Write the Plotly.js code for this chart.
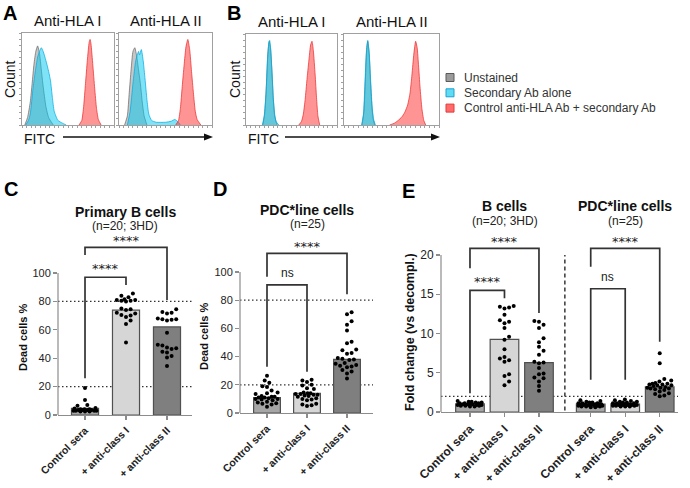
<!DOCTYPE html>
<html><head><meta charset="utf-8">
<script src="https://cdn.plot.ly/plotly-3.0.1.min.js"></script>
<style>html,body{margin:0;padding:0;background:#fff}#chart{width:690px;height:488px}</style>
</head><body><div id="chart"></div>
<script>
// ---------------- DATA ----------------
// Histograms (x: % of FITC axis width, y: normalised count)
const a1Gray = [[3,0],[6,0.08],[9,0.25],[11,0.45],[13,0.66],[15,0.8],[17,0.86],[19,0.78],[21,0.6],[23,0.42],[26,0.2],[29,0.08],[34,0]];
const a1Cyan = [[4,0],[7,0.05],[9,0.12],[12,0.4],[14,0.55],[17,0.74],[19,0.8],[21,0.84],[23,0.8],[26,0.7],[29,0.58],[31,0.48],[33,0.3],[35,0.15],[39,0.05],[44,0.02],[48,0]];
const a1Red  = [[62,0],[65,0.05],[67,0.2],[69,0.45],[71,0.7],[73,0.9],[74,0.93],[75,0.88],[77,0.65],[79,0.4],[81,0.18],[83,0.06],[86,0]];
const a2Gray = [[6,0],[9,0.1],[11,0.35],[13,0.6],[15,0.8],[17,0.84],[19,0.75],[21,0.6],[23,0.45],[25,0.25],[27,0.1],[30,0]];
const a2Cyan = [[9,0],[12,0.15],[15,0.45],[18,0.7],[21,0.8],[22,0.76],[24,0.82],[26,0.7],[28,0.5],[30,0.28],[32,0.12],[35,0.05],[40,0.03],[50,0.03],[56,0.04],[60,0.06],[63,0.04],[66,0]];
const a2Red  = [[61,0],[64,0.05],[66,0.18],[68,0.42],[70,0.65],[72,0.85],[74,0.93],[76,0.82],[78,0.58],[80,0.35],[82,0.15],[84,0.06],[88,0]];
const b1Gray = [[18.5,0],[20.5,0.12],[22.5,0.45],[24,0.78],[25.5,0.92],[27,0.84],[28.5,0.58],[30,0.28],[31.5,0.1],[34,0]];
const b1Cyan = [[18,0],[20,0.1],[22,0.35],[23.5,0.7],[25,0.9],[26,0.93],[27,0.85],[28.5,0.6],[30,0.3],[31.5,0.12],[33,0.04],[36,0]];
const b1Red  = [[58,0],[61,0.04],[63,0.12],[65,0.28],[67,0.5],[69,0.7],[71,0.88],[72.5,0.92],[74,0.82],[76,0.55],[77.5,0.3],[79,0.1],[81,0]];
const b2Gray = [[19,0],[21,0.15],[22.5,0.5],[24,0.85],[25,0.92],[26.5,0.78],[28,0.45],[29.5,0.18],[31,0.05],[32.5,0]];
const b2Cyan = [[18.5,0],[20.5,0.12],[22,0.45],[23.5,0.8],[25,0.93],[26.5,0.8],[28,0.5],[29.5,0.22],[31,0.07],[33,0]];
const b2Red  = [[48,0],[53,0.02],[57,0.05],[61,0.09],[64,0.14],[67,0.22],[69.5,0.35],[71.5,0.55],[73.5,0.78],[75.4,0.92],[77,0.85],[78.5,0.65],[80,0.42],[82,0.18],[84,0.05],[86,0]];
const legendNames = ['Unstained','Secondary Ab alone','Control anti-HLA Ab + secondary Ab'];
const histTitles = ['Anti-HLA I','Anti-HLA II'];

// Bar panels
const categories = ['Control sera','+ anti-class I','+ anti-class II'];
const barC = [4.7, 73.8, 62];
const cControl = [19,10.5,7,6.5,5,4.5,4,4,4,3.5,3.5,3.5,3.5,3,3,3,3,2.5,2.5,2.5];
const cClassI  = [85.5,84,83,81.5,81,81,80.5,80.5,80,75,74.5,74,72,71.5,70.5,70,69,66.5,64,51];
const cClassII = [74.5,72.5,72,71.5,68,67.5,67.5,67,66.5,58,49.5,49,47.5,47,46.5,44.5,44,41.5,40.5,34.5];
const barD = [10.9, 14, 38];
const dControl = [26.5,23,21.5,19,18.5,16,14.5,14,13.5,12,11.5,11.5,11,11,10.5,10,10,9.5,9,8,7.5,7,6.5,6,4.5];
const dClassI  = [23.5,23,22,20,19.5,17.5,17,14.5,14,14,13.5,13.5,13,13,12.5,12,11.5,10.5,10,9.5,9,6.5,6,5.5,5];
const dClassII = [71.5,70,65,62.5,58.5,50.5,49.5,45,44.5,42.5,42,39,38.5,38,37.5,35.5,35,34,33.5,33,32.5,30.5,29.5,28,24.5];
const groupsE = ['B cells','PDC*line cells'];
const subtitlesE = ['(n=20; 3HD)','(n=25)'];
const barEB = [1.05, 9.25, 6.3];
const barEP = [1.0, 1.0, 3.2];
const eBControl = [1.4,1.3,1.3,1.2,1.2,1.1,1.1,1.1,1.0,1.0,1.0,1.0,0.9,0.9,0.9,0.8,0.8,0.8,0.7,0.7];
const eBClassI  = [13.5,13.4,13.3,13.2,12.4,11.7,11.5,11.3,10.7,9.6,9.2,8.0,7.0,6.8,6.6,6.4,4.8,4.6,3.9,3.4];
const eBClassII = [11.6,11.5,11.1,10.7,9.4,8.9,8.3,7.8,7.3,6.4,6.3,6.2,5.6,4.9,4.8,4.4,4.3,3.9,3.3,2.7];
const ePControl = [1.5,1.4,1.3,1.2,1.2,1.1,1.1,1.1,1.0,1.0,1.0,1.0,1.0,0.9,0.9,0.9,0.9,0.8,0.8,0.8,0.7,0.7,0.7,0.6,0.6];
const ePClassI  = [1.6,1.5,1.4,1.3,1.3,1.2,1.2,1.1,1.1,1.1,1.0,1.0,1.0,1.0,0.9,0.9,0.9,0.9,0.9,0.8,0.8,0.8,0.7,0.7,0.7];
const ePClassII = [7.5,6.2,4.2,4.0,3.9,3.7,3.6,3.6,3.5,3.5,3.4,3.4,3.3,3.2,3.1,3.1,3.0,3.0,2.9,2.8,2.6,2.4,2.3,2.1,2.0];

// ---------------- STYLE / LAYOUT ----------------
const W=690,H=488;
const FONT='Liberation Sans, Arial, Helvetica, sans-serif';
const fx=p=>p/W, fy=p=>1-p/H;
const traces=[], shapes=[], annotations=[];
const layout={width:W,height:H,margin:{l:0,r:0,t:0,b:0},paper_bgcolor:'#fff',plot_bgcolor:'rgba(0,0,0,0)',
  showlegend:false,font:{family:FONT,color:'#222'},shapes,annotations};

function text(t,px,py,size,opt){annotations.push(Object.assign({text:t,xref:'paper',yref:'paper',x:fx(px),y:fy(py),
  showarrow:false,xanchor:'center',yanchor:'middle',font:{family:FONT,size:size,color:'#111'}},opt||{}));}
const letterFont={family:FONT,size:20,color:'#000',weight:'bold'};
function letter(L,px,pyTop){text(L,px,pyTop,20,{yanchor:'top',font:letterFont});}

// Histograms
const histFill=['rgba(128,128,128,0.45)','rgba(0,200,240,0.5)','rgba(255,60,60,0.55)'];
const histLine=['rgba(90,90,90,0.8)','rgba(0,170,225,0.9)','rgba(235,40,40,0.9)'];
const histPanels=[
 {ax:'', box:[22,114,33,125],curves:[a1Gray,a1Cyan,a1Red]},
 {ax:'2',box:[119,212,33,125],curves:[a2Gray,a2Cyan,a2Red]},
 {ax:'3',box:[246,337,34,125],curves:[b1Gray,b1Cyan,b1Red]},
 {ax:'4',box:[344,439,34,125],curves:[b2Gray,b2Cyan,b2Red]}];
histPanels.forEach((p,pi)=>{
  const xa='x'+p.ax, ya='y'+p.ax;
  p.curves.forEach((c,k)=>traces.push({type:'scatter',mode:'lines',x:c.map(q=>q[0]),y:c.map(q=>q[1]),xaxis:xa,yaxis:ya,
    fill:'tozeroy',fillcolor:histFill[k],line:{color:histLine[k],width:0.8,shape:'spline',smoothing:0.5},hoverinfo:'skip'}));
  const common={showline:true,mirror:true,linecolor:'#a0a0a0',linewidth:1,ticks:'outside',ticklen:2,tickcolor:'#a0a0a0',
    showticklabels:false,showgrid:false,zeroline:false,fixedrange:true};
  layout['xaxis'+p.ax]=Object.assign({domain:[fx(p.box[0]),fx(p.box[1])],range:[0,100],anchor:ya,dtick:5},common);
  layout['yaxis'+p.ax]=Object.assign({domain:[fy(p.box[3]),fy(p.box[2])],range:[0,1],anchor:xa,dtick:1/15},common);
  text(histTitles[pi%2],(p.box[0]+p.box[1])/2,p.box[2]-2,15,{yanchor:'bottom'});
});
['A','B'].forEach((L,i)=>{
  const x1=i?439:212, ax0=i?285:63;
  letter(L,i?234:10,0);
  text('Count',i?235:10,80,14,{textangle:-90});
  text('FITC',i?263:39,139,14);
  shapes.push({type:'line',xref:'paper',yref:'paper',x0:fx(ax0),x1:fx(x1-6),y0:fy(137),y1:fy(137),line:{color:'#111',width:1.4}});
  shapes.push({type:'path',xref:'paper',yref:'paper',path:`M${fx(x1-8)},${fy(133.5)} L${fx(x1+1)},${fy(137)} L${fx(x1-8)},${fy(140.5)} Z`,fillcolor:'#111',line:{width:0}});
});
// legend
const legFill=['#9b9b9b','#5fdcf2','#ff6b6b'], legLine=['#5a5a5a','#1f9fd6','#e53a3a'];
legendNames.forEach((n,i)=>{
  const cy=77.5+i*15.3;
  shapes.push({type:'rect',xref:'paper',yref:'paper',x0:fx(446),x1:fx(454),y0:fy(cy-4),y1:fy(cy+4),fillcolor:legFill[i],line:{color:legLine[i],width:1}});
  text(n,462,cy,12,{xanchor:'left',font:{family:FONT,size:12,color:'#333'}});
});

// Bar panels
const barColors=['#a6a6a6','#d6d6d6','#7f7f7f'];
const axisColor='#8c8c8c';
function swarm(vals,pxY,d,maxOff){
  const idx=vals.map((v,i)=>i).sort((a,b)=>vals[a]-vals[b]);
  const placed=[], off=new Array(vals.length).fill(0);
  idx.forEach(i=>{
    const y=vals[i]*pxY; let best=0, found=false;
    for(let s=0;s<80;s++){
      const k=Math.ceil(s/2), sign=s%2?1:-1, cx=s===0?0:sign*k*d*0.5;
      if(Math.abs(cx)>maxOff) break;
      if(placed.every(p=>(p[0]-cx)**2+(p[1]-y)**2>=d*d)){best=cx;found=true;break;}
    }
    if(!found){let bd=-1;for(let cx=-maxOff;cx<=maxOff;cx+=1){const md=Math.min(...placed.map(p=>(p[0]-cx)**2+(p[1]-y)**2));if(md>bd){bd=md;best=cx;}}}
    placed.push([best,y]); off[i]=best;
  });
  return off;
}
function barPanel(c){
  const xa='x'+c.ax, ya='y'+c.ax;
  const topPx=c.yBottom-c.yr[1]*c.yUnit;
  const pxX=(c.xPx[1]-c.xPx[0])/(c.xr[1]-c.xr[0]);
  layout['xaxis'+c.ax]={domain:[fx(c.xPx[0]),fx(c.xPx[1])],range:c.xr,anchor:ya,showline:true,linecolor:axisColor,linewidth:1.2,
    ticks:'outside',ticklen:4,tickcolor:axisColor,tickwidth:1.2,tickvals:c.pos,ticktext:c.labels.map(s=>'<b>'+s+'</b>'),tickangle:-45,
    tickfont:{family:FONT,size:c.xFont,color:'#222'},showgrid:false,zeroline:false,fixedrange:true};
  layout['yaxis'+c.ax]={domain:[fy(c.yBottom),fy(topPx)],range:c.yr,anchor:xa,showline:false,ticks:'outside',ticklen:4,
    tickcolor:axisColor,tickwidth:1.2,tickvals:c.yticks,tickfont:{family:FONT,size:c.yFont,color:'#222'},showgrid:false,zeroline:false,fixedrange:true};
  shapes.push({type:'line',xref:xa+' domain',yref:ya+' domain',x0:0,x1:0,y0:0,y1:c.yticks[c.yticks.length-1]/c.yr[1],line:{color:axisColor,width:1.2}});
  c.dotted.forEach(v=>shapes.push({type:'line',xref:xa,yref:ya,x0:c.xr[0],x1:c.xr[1],y0:v,y1:v,layer:'below',line:{color:'#333',width:1.3,dash:'1.5px,2.5px'}}));
  traces.push({type:'bar',x:c.pos,y:c.bars,xaxis:xa,yaxis:ya,width:c.barWidth,marker:{color:c.colors,line:{color:'#505050',width:1.2}},hoverinfo:'skip'});
  c.points.forEach((vals,i)=>{
    const off=swarm(vals,c.yUnit,4.6,c.barWidth*pxX/2-2);
    traces.push({type:'scatter',mode:'markers',x:vals.map((v,j)=>c.pos[i]+off[j]/pxX),y:vals,xaxis:xa,yaxis:ya,cliponaxis:false,
      marker:{size:4,color:'#000'},hoverinfo:'skip'});
  });
  c.brackets.forEach(b=>{
    const x0=c.pos[b.from], x1=c.pos[b.to];
    const isNs=b.label==='ns';
    shapes.push({type:'path',xref:xa,yref:ya,path:`M${x0},${b.lb} L${x0},${b.top} L${x1},${b.top} L${x1},${b.rb}`,line:{color:'#333',width:1.7}});
    annotations.push({text:b.label,xref:xa,yref:ya,x:(x0+x1)/2,y:b.top,yanchor:'bottom',showarrow:false,
      yshift:isNs?3:(b.to-b.from>1?-3:-1),
      font:{family:isNs?FONT:'DejaVu Sans',size:isNs?12:13,color:'#222'}});
  });
}
barPanel({ax:'5',xPx:[58,192],xr:[-0.659,2.61],yBottom:415,yUnit:1.42,yr:[0,130],pos:[0,1,2],labels:categories,bars:barC,
  colors:barColors,barWidth:0.66,points:[cControl,cClassI,cClassII],yticks:[0,20,40,60,80,100],dotted:[20,80],xFont:10.5,yFont:11,
  brackets:[{from:0,to:1,top:97,lb:25.8,rb:91.5,label:'****'},{from:0,to:2,top:118,lb:112.7,rb:81,label:'****'}]});
barPanel({ax:'6',xPx:[240,373],xr:[-0.675,2.65],yBottom:413,yUnit:1.41,yr:[0,130],pos:[0,1,2],labels:categories,bars:barD,
  colors:barColors,barWidth:0.67,points:[dControl,dClassI,dClassII],yticks:[0,20,40,60,80,100],dotted:[20,80],xFont:10.5,yFont:11,
  brackets:[{from:0,to:1,top:90.8,lb:32.8,rb:29.3,label:'ns'},{from:0,to:2,top:113.2,lb:96.7,rb:84.2,label:'****'}]});
const posE=[], labelsE=[], colorsE=[];
groupsE.forEach((g,gi)=>categories.forEach((cat,i)=>{posE.push(gi*(categories.length+0.5)+i);labelsE.push(cat);colorsE.push(barColors[i]);}));
barPanel({ax:'7',xPx:[441,678],xr:[-0.84,6.03],yBottom:412,yUnit:7.85,yr:[0,25],pos:posE,labels:labelsE,bars:barEB.concat(barEP),
  colors:colorsE,barWidth:0.83,points:[eBControl,eBClassI,eBClassII,ePControl,ePClassI,ePClassII],yticks:[0,5,10,15,20],dotted:[2],xFont:12,yFont:12,
  brackets:[{from:0,to:1,top:15.5,lb:2.4,rb:14.5,label:'****'},{from:0,to:2,top:20.85,lb:18.3,rb:12.6,label:'****'},
            {from:3,to:4,top:15.7,lb:4.1,rb:4.1,label:'ns'},{from:3,to:5,top:20.85,lb:18.5,rb:8.96,label:'****'}]});
const sepX=(posE[2]+posE[3])/2;
shapes.push({type:'line',xref:'x7',yref:'y7',x0:sepX,x1:sepX,y0:0.2,y1:20,line:{color:'#444',width:1.6,dash:'4px,3px'}});

// panel texts
const bold=(sz)=>({font:{family:FONT,size:sz,color:'#111',weight:'bold'}});
letter('C',11,176);
letter('D',220,176);
letter('E',409,178);
text('Primary B cells',125,211.5,14,bold(14));
text('(n=20; 3HD)',125,226,12,{font:{family:FONT,size:12,color:'#222'}});
text('PDC*line cells',307,210,14,bold(14));
text('(n=25)',307,224,12,{font:{family:FONT,size:12,color:'#222'}});
groupsE.forEach((g,gi)=>{
  const cx=470+(posE[gi*3+1])*34.5;
  text(g,cx,206,14,bold(14));
  text(subtitlesE[gi],cx,220.5,12,{font:{family:FONT,size:12,color:'#222'}});
});
text('Dead cells %',23,338,11,Object.assign({textangle:-90},bold(11)));
text('Dead cells %',204,337,11,Object.assign({textangle:-90},bold(11)));
text('Fold change (vs decompl.)',410,332,12.5,Object.assign({textangle:-90},bold(12.5)));

Plotly.newPlot('chart',traces,layout,{staticPlot:true,displayModeBar:false});
</script></body></html>
